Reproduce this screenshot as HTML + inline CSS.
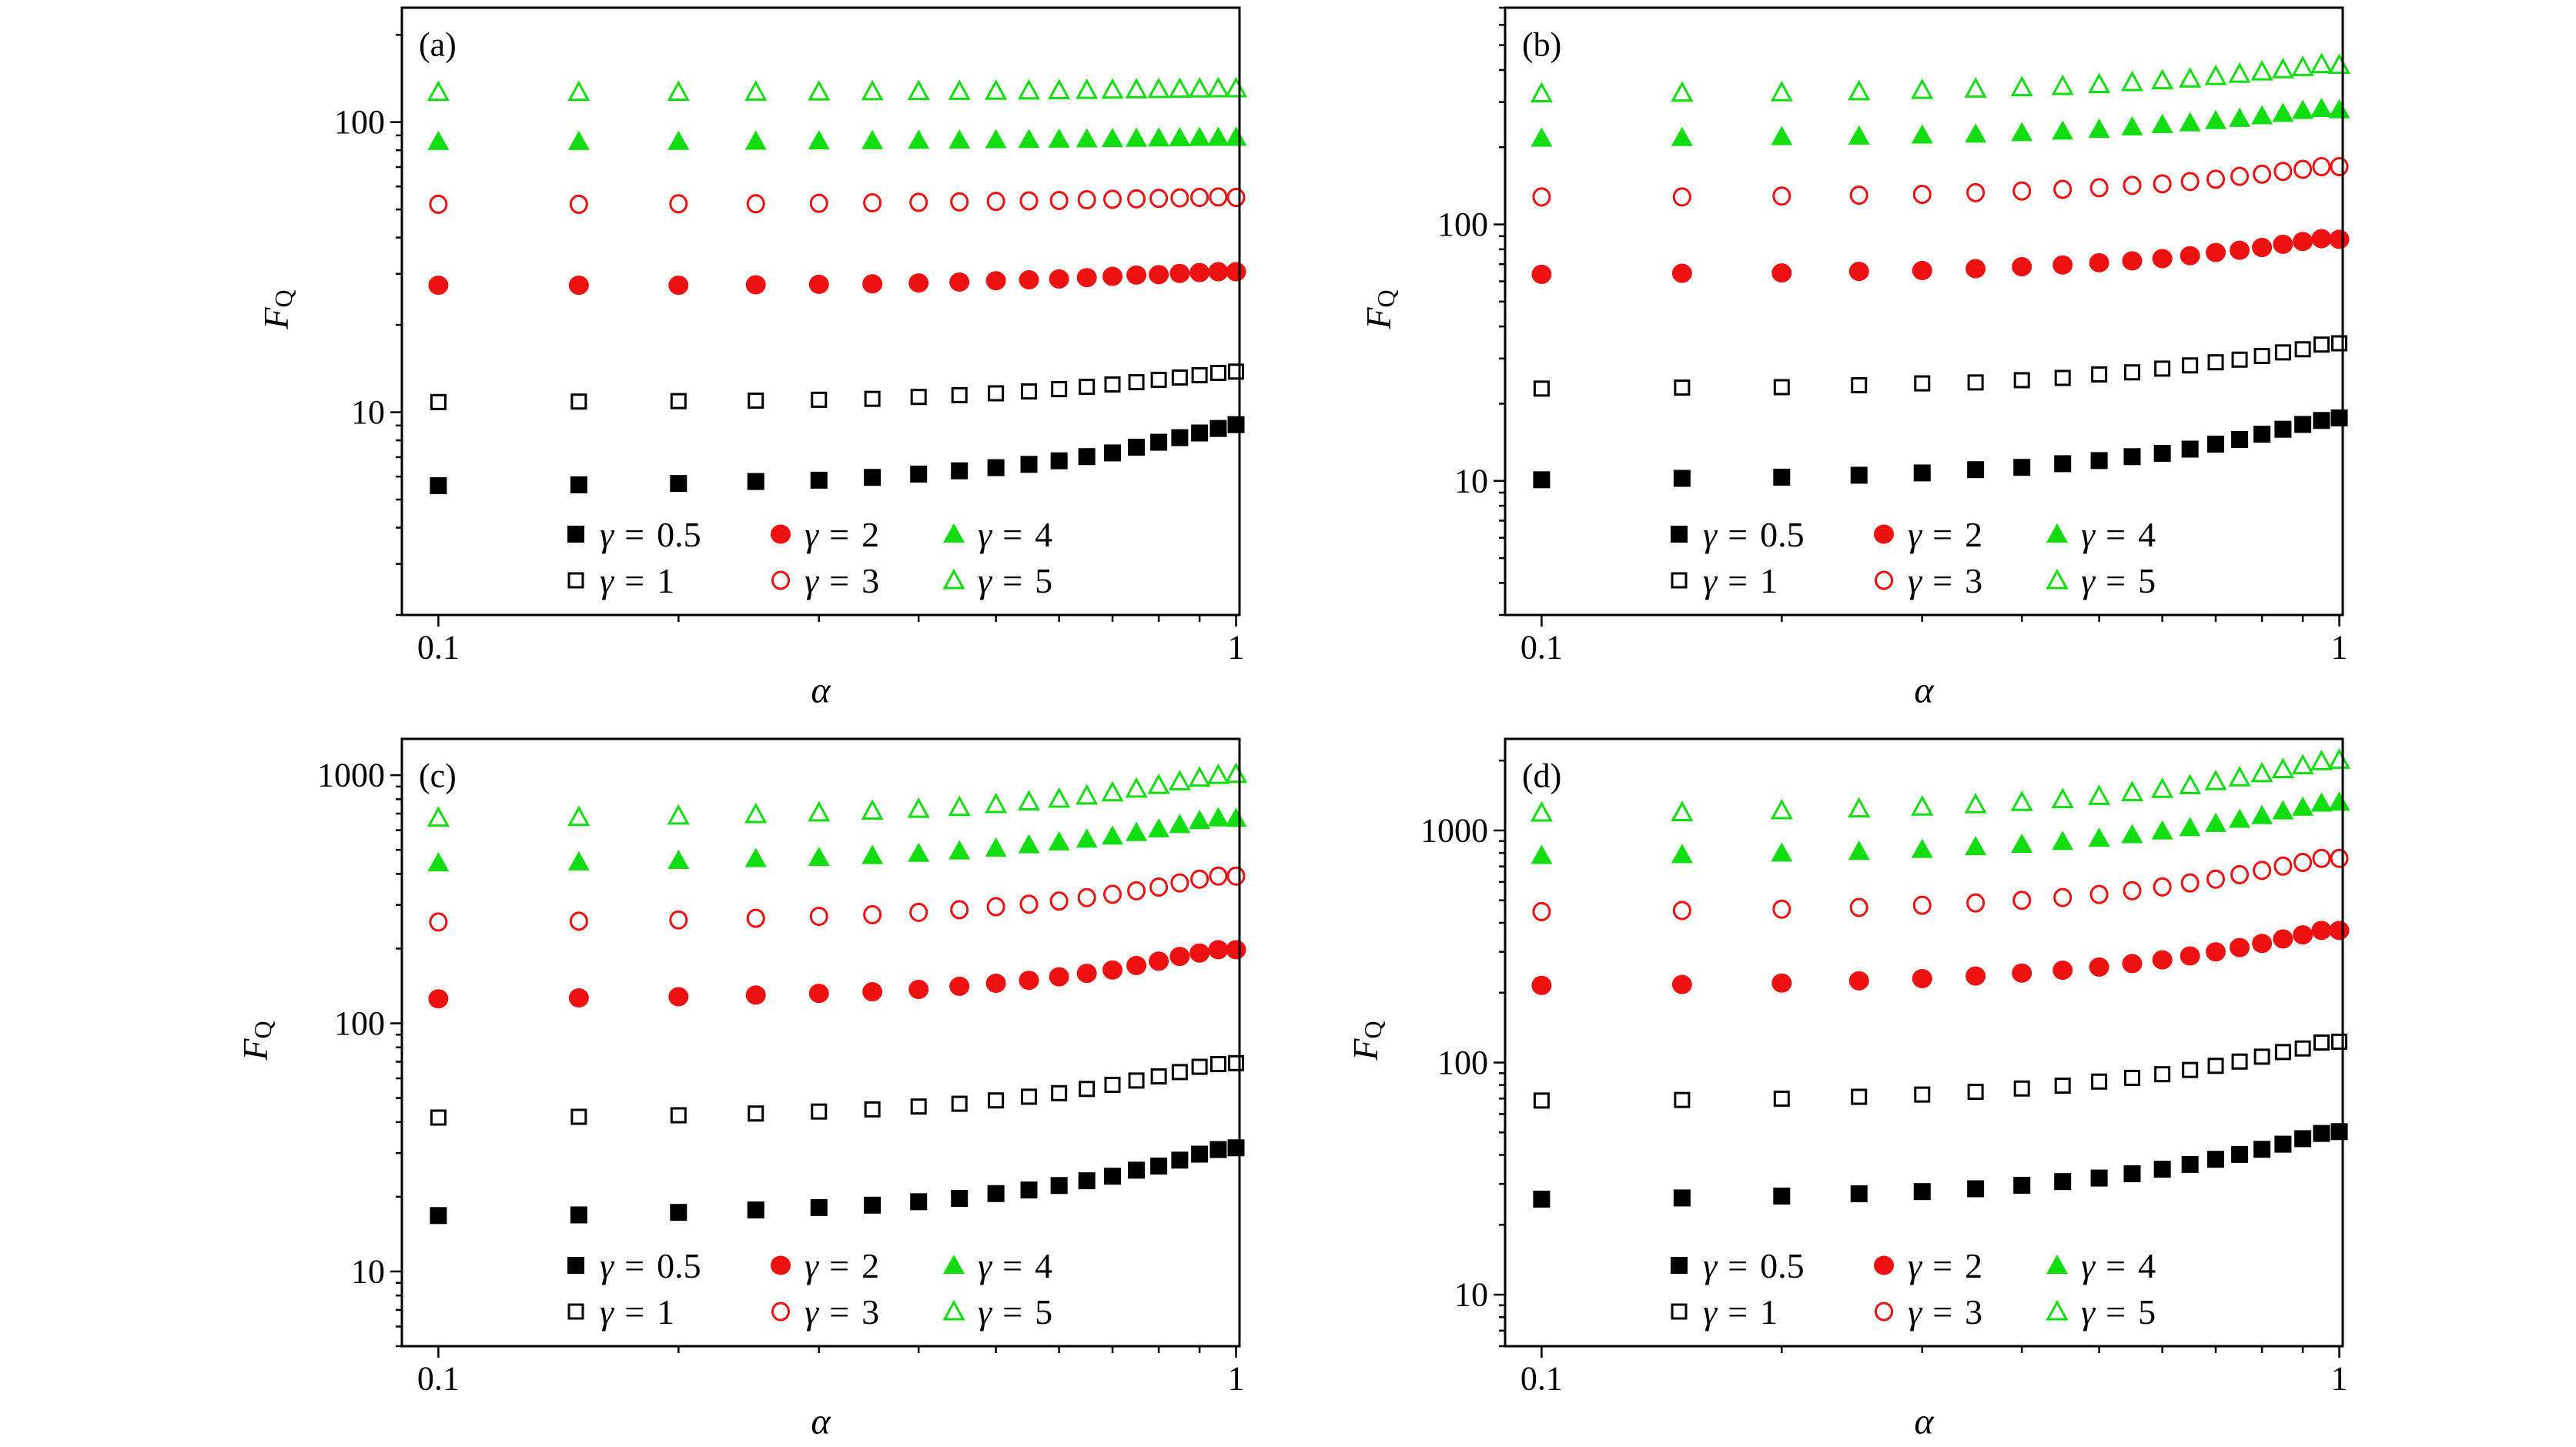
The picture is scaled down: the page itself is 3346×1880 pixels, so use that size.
<!DOCTYPE html>
<html><head><meta charset="utf-8"><style>
html,body{margin:0;padding:0;background:#fff}
svg{display:block}
text{font-family:"Liberation Serif",serif;fill:#000}
</style></head><body>
<svg id="fig" width="3346" height="1880" viewBox="0 0 3346 1880" xmlns="http://www.w3.org/2000/svg"></svg>
<script>
const alphaValues=[0.1,0.15,0.2,0.25,0.3,0.35,0.4,0.45,0.5,0.55,0.6,0.65,0.7,0.75,0.8,0.85,0.9,0.95,1.0];
const gammaLabels=["0.5","1","2","3","4","5"];
// panel a
const a_g05=[5.58,5.62,5.68,5.77,5.83,5.96,6.12,6.28,6.44,6.61,6.80,7.03,7.24,7.57,7.88,8.17,8.48,8.79,9.06];
const a_g1=[10.84,10.88,10.92,10.96,11.04,11.12,11.29,11.45,11.62,11.79,12.01,12.23,12.46,12.69,12.93,13.17,13.41,13.66,13.8];
const a_g2=[27.4,27.4,27.4,27.5,27.6,27.7,27.9,28.1,28.4,28.6,28.8,29.1,29.4,29.7,29.8,30.1,30.3,30.5,30.5];
const a_g3=[52.1,52.1,52.3,52.3,52.5,52.7,52.9,53.1,53.3,53.5,53.7,54.0,54.2,54.4,54.6,54.8,55.0,55.2,55.0];
const a_g4=[85.7,85.7,85.8,85.9,86.1,86.3,86.5,86.7,86.9,87.1,87.3,87.5,87.7,87.9,88.1,88.3,88.5,88.6,88.6];
const a_g5=[126.9,126.9,127.0,127.1,127.3,127.5,127.7,127.9,128.1,128.3,128.6,128.9,129.2,129.5,129.8,130.1,130.4,130.6,130.6];
// panel b
const b_g05=[10.1,10.23,10.34,10.52,10.74,11.06,11.29,11.67,12.0,12.43,12.8,13.3,13.9,14.5,15.2,15.9,16.6,17.2,17.6];
const b_g1=[22.9,23.1,23.2,23.6,24.0,24.2,24.7,25.2,26.0,26.5,27.4,28.2,29.0,29.7,30.7,31.7,32.6,34.0,34.4];
const b_g2=[63.9,64.5,64.7,65.6,66.1,67.2,68.4,69.5,70.9,72.1,73.6,75.5,77.7,79.3,81.3,83.7,85.8,88.0,87.5];
const b_g3=[128,128,129,130,131,133,135,137,139,142,144,147,150,154,157,161,164,168,168];
const b_g4=[217,218,220,221,223,225,228,231,235,240,245,249,254,259,265,271,278,283,280];
const b_g5=[324,326,327,330,334,338,342,346,352,358,364,370,378,386,394,402,410,421,418];
// panel c
const c_g05=[16.8,16.9,17.3,17.7,18.1,18.5,19.1,19.7,20.6,21.3,22.2,23.2,24.2,25.6,26.6,28.1,29.7,31.0,31.5];
const c_g1=[41.7,42.0,42.6,43.3,44.1,45.0,46.2,47.4,48.9,50.6,52.3,54.4,56.5,58.8,61.1,63.6,66.8,68.5,69.1];
const c_g2=[125.5,126.6,128,130,132,134,137,141,145,149,154,159,164,171,178,186,192,198,198];
const c_g3=[256,258,261,265,270,274,280,287,295,302,311,321,331,342,354,368,381,392,392];
const c_g4=[443,447,453,461,466,474,484,495,508,524,538,552,568,587,607,632,656,673,670];
const c_g5=[673,677,686,695,706,718,730,743,763,782,802,826,851,881,911,943,975,1000,1010];
// panel d
const d_g05=[25.8,26.1,26.6,27.2,27.8,28.6,29.6,30.7,31.8,33.2,34.7,36.4,38.3,40.2,42.3,44.5,47.0,49.5,50.4];
const d_g1=[68.6,69.0,69.9,71.2,72.8,74.8,77.3,79.5,82.8,85.9,89.1,92.9,96.8,101,106,111,115,122,123];
const d_g2=[215,217,220,225,230,236,243,250,258,267,277,288,300,313,326,341,355,371,371];
const d_g3=[447,452,458,466,476,487,500,514,530,550,571,594,617,645,673,702,728,758,758];
const d_g4=[780,787,799,813,828,851,871,896,925,959,995,1028,1072,1117,1158,1213,1258,1311,1324];
const d_g5=[1191,1196,1219,1241,1264,1294,1323,1360,1405,1459,1507,1562,1628,1689,1760,1834,1904,1984,2012];
const yMajorTicks_a=[10,100], yMajorTicks_b=[10,100], yMajorTicks_c=[10,100,1000], yMajorTicks_d=[10,100,1000];
const xTickLabels=["0.1","1"];

const NS="http://www.w3.org/2000/svg";
const svg=document.getElementById('fig');
const GREEN="#11dd11", RED="#ee1111";
function mk(tag,attrs,parent){const e=document.createElementNS(NS,tag);for(const k in attrs)e.setAttribute(k,attrs[k]);(parent||svg).appendChild(e);return e;}

const panels=[
 {id:"a",x:522,y:10,ymin:2,ymax:248,ticks:yMajorTicks_a,series:[a_g05,a_g1,a_g2,a_g3,a_g4,a_g5],ylab:-164},
 {id:"b",x:1955,y:10,ymin:3,ymax:700,ticks:yMajorTicks_b,series:[b_g05,b_g1,b_g2,b_g3,b_g4,b_g5],ylab:-165},
 {id:"c",x:522,y:960,ymin:5,ymax:1400,ticks:yMajorTicks_c,series:[c_g05,c_g1,c_g2,c_g3,c_g4,c_g5],ylab:-191},
 {id:"d",x:1955,y:960,ymin:6,ymax:2480,ticks:yMajorTicks_d,series:[d_g05,d_g1,d_g2,d_g3,d_g4,d_g5],ylab:-182}
];
const W=1088,H=789,XMIN=0.09,XMAX=1.01;

function marker(g,type,cx,cy,name){
  let e;
  if(type===0) e=mk('rect',{x:cx-11,y:cy-11,width:22,height:22,fill:'#000'},g);
  else if(type===1) e=mk('rect',{x:cx-9,y:cy-9,width:18,height:18,fill:'none',stroke:'#000','stroke-width':3},g);
  else if(type===2) e=mk('ellipse',{cx:cx,cy:cy,rx:13,ry:12.5,fill:RED},g);
  else if(type===3) e=mk('ellipse',{cx:cx,cy:cy,rx:10.5,ry:11,fill:'none',stroke:RED,'stroke-width':3},g);
  else if(type===4) e=mk('polygon',{points:`${cx},${cy-14} ${cx+14},${cy+11} ${cx-14},${cy+11}`,fill:GREEN},g);
  else e=mk('polygon',{points:`${cx},${cy-12} ${cx+12},${cy+10} ${cx-12},${cy+10}`,fill:'none',stroke:GREEN,'stroke-width':3},g);
  
  
  return e;
}

panels.forEach(p=>{
  const g=mk('g',{});
  
  
  const xs=v=>p.x+(Math.log10(v)-Math.log10(XMIN))/(Math.log10(XMAX)-Math.log10(XMIN))*W;
  const ys=v=>p.y+H-(Math.log10(v)-Math.log10(p.ymin))/(Math.log10(p.ymax)-Math.log10(p.ymin))*H;
  const lo=Math.floor(Math.log10(p.ymin)), hi=Math.ceil(Math.log10(p.ymax));
  for(let d=lo;d<=hi;d++){for(let m=1;m<10;m++){const v=m*Math.pow(10,d);if(v<p.ymin||v>p.ymax)continue;const y=ys(v);
    const t=mk('line',{x1:p.x,x2:p.x-(m===1?15:8),y1:y,y2:y,stroke:'#000','stroke-width':2.5},g);
    
    }}
  p.ticks.forEach(v=>{const t=mk('text',{x:p.x-22,y:ys(v),'text-anchor':'end','dominant-baseline':'central','font-size':44},g);t.textContent=String(v);
    
    });
  for(let m=1;m<=10;m++){const v=m/10;const x=xs(v);
    const t=mk('line',{x1:x,x2:x,y1:p.y+H,y2:p.y+H+(m===1||m===10?15:9),stroke:'#000','stroke-width':2.5},g);
    
    }
  [0.1,1].forEach((v,i)=>{const t=mk('text',{x:xs(v),y:p.y+H+42,'text-anchor':'middle','dominant-baseline':'central','font-size':44},g);t.textContent=xTickLabels[i];
    
    });
  const xl=mk('text',{x:p.x+W/2,y:p.y+H+98,'text-anchor':'middle','dominant-baseline':'central','font-size':48,'font-style':'italic'},g);xl.textContent='α';
  
  
  const yx=p.x+p.ylab, yy=p.y+392;
  const yl=mk('text',{x:yx,y:yy,'text-anchor':'middle','dominant-baseline':'central','font-size':46,transform:`rotate(-90 ${yx} ${yy})`},g);
  yl.innerHTML='<tspan font-style="italic">F</tspan><tspan font-size="32" dy="10">Q</tspan>';
  
  
  p.series.forEach((arr,si)=>{
    const sg=mk('g',{},g);
    
    
    arr.forEach((v,i)=>marker(sg,si,xs(alphaValues[i]),ys(v),'point'));
  });
  const fr=mk('rect',{x:p.x,y:p.y,width:W,height:H,fill:'none',stroke:'#000','stroke-width':3},g);
  
  
  const pl=mk('text',{x:p.x+22,y:p.y+48,'dominant-baseline':'central','font-size':44},g);pl.textContent='('+p.id+')';
  
  
  const lg=mk('g',{},g);
  
  
  const cols=[226,492,717], rows=[-105,-45];
  const order=[[0,2,4],[1,3,5]];
  order.forEach((row,ri)=>row.forEach((si,ci)=>{
    const mx=p.x+cols[ci], my=p.y+H+rows[ri];
    marker(lg,si,mx,my,'legend-marker');
    const t=mk('text',{x:mx+31,y:my,'dominant-baseline':'central','font-size':46},lg);
    t.innerHTML='<tspan font-style="italic">γ</tspan><tspan dx="14">=</tspan><tspan dx="16">'+gammaLabels[si]+'</tspan>';
    
    
  }));
});
</script>
</body></html>
